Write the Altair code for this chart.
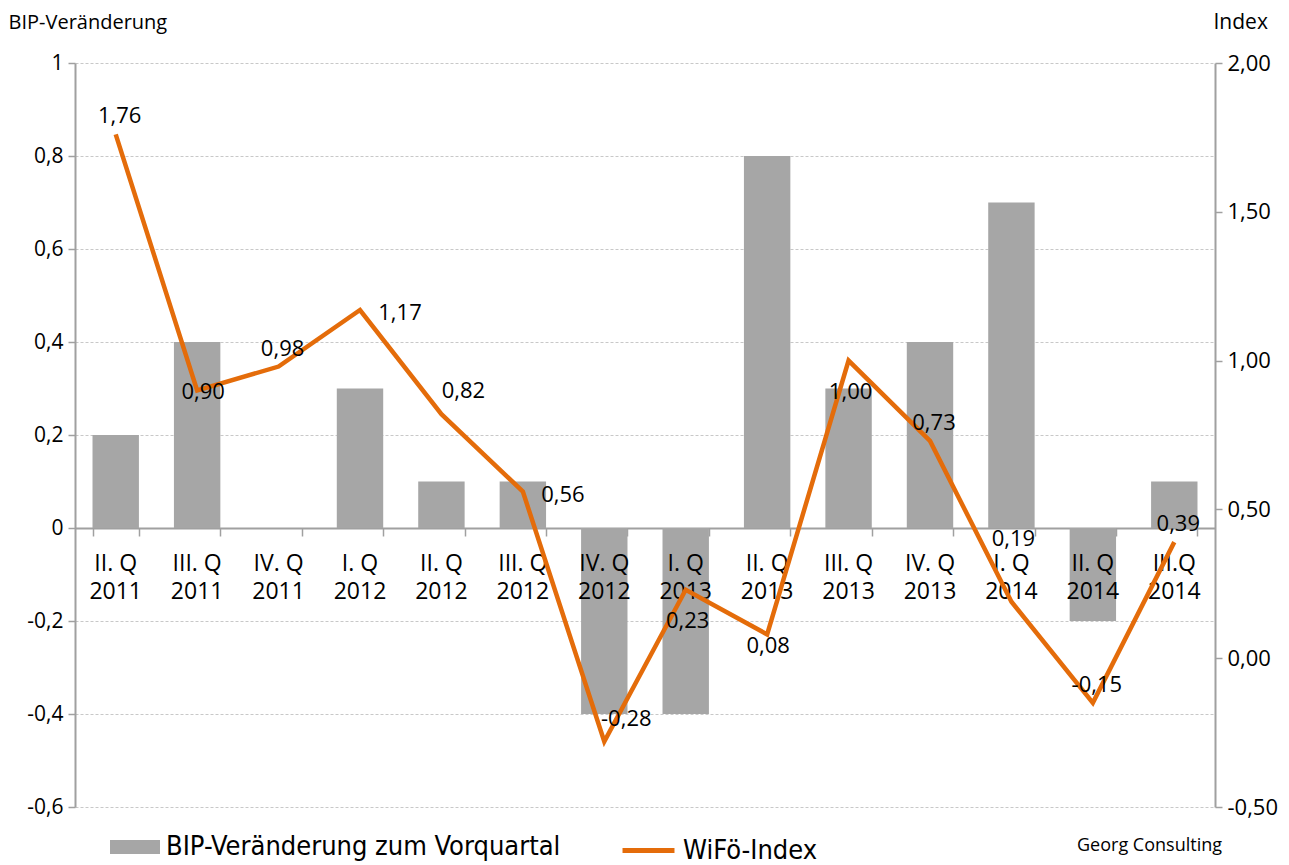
import altair as alt
import pandas as pd

# ---------------- Daten ----------------
quartale = ["II. Q\n2011", "III. Q\n2011", "IV. Q\n2011", "I. Q\n2012", "II. Q\n2012",
            "III. Q\n2012", "IV. Q\n2012", "I. Q\n2013", "II. Q\n2013", "III. Q\n2013",
            "IV. Q\n2013", "I. Q\n2014", "II. Q\n2014", "III.Q\n2014"]
bip_veraenderung = [0.2, 0.4, 0.0, 0.3, 0.1, 0.1, -0.4, -0.4, 0.8, 0.3, 0.4, 0.7, -0.2, 0.1]
wifoe_index = [1.76, 0.90, 0.98, 1.17, 0.82, 0.56, -0.28, 0.23, 0.08, 1.00, 0.73, 0.19, -0.15, 0.39]
# Position der Datenbeschriftung (wie in der Vorlage)
label_lage = ["oben", "mitte", "oben", "rechts", "obenrechts", "rechts", "obenrechts",
              "unten", "untennah", "unten", "oben", "hoch", "oben", "oben"]

serie_bar = "BIP-Veränderung zum Vorquartal"
serie_line = "WiFö-Index"
quelle = ["Georg Consulting"]

df = pd.DataFrame({
    "quartal": quartale,
    "bip": bip_veraenderung,
    "wifoe": wifoe_index,
    "lage": label_lage,
    "nullinie": [0.0] * len(quartale),
})
df["wifoe_label"] = [f"{v:.2f}".replace(".", ",") for v in wifoe_index]
df["serie_bar"] = serie_bar
df["serie_line"] = serie_line

# label offsets (dx, dy) in px per placement
lage_offsets = {
    "oben": (4, -18),
    "mitte": (6, 2),
    "rechts": (40, 3),
    "obenrechts": (22, -23),
    "unten": (2, 31),
    "untennah": (1, 12),
    "hoch": (2, -63),
}

FONT = "Open Sans"
GRAY_AX = "#A0A0A0"
BAR = "#A6A6A6"
ORANGE = "#E46C0A"

W, H = 1140, 744
left_dom = [-0.6, 1.0]
zero_px = H * (left_dom[1] - 0) / (left_dom[1] - left_dom[0])

x_axis = alt.Axis(title=None, labels=False, offset=-(H - zero_px), domainColor=GRAY_AX,
                  domainWidth=2, tickColor=GRAY_AX, tickWidth=1.5, tickSize=8,
                  tickBand="extent", grid=False)
x_enc = alt.X("quartal:N", sort=quartale,
              scale=alt.Scale(paddingInner=0.43, paddingOuter=0.215), axis=x_axis)

left_scale = alt.Scale(domain=left_dom, nice=False, zero=False)
left_axis = alt.Axis(
    values=[-0.6, -0.4, -0.2, 0, 0.2, 0.4, 0.6, 0.8, 1.0],
    labelExpr="replace(replace(format(datum.value, '.1~f'), '.', ','), '\u2212', '-')",
    title="BIP-Veränderung", titleAngle=0, titleAlign="left", titleBaseline="middle",
    titleX=-67, titleY=-41, titleFontSize=20, titleFontWeight="normal", titleFont=FONT,
    titleColor="#000000",
    grid=True, gridDash=[3, 2], gridColor="#C8C8C8", gridWidth=1,
    domainColor=GRAY_AX, domainWidth=2, tickColor=GRAY_AX, tickWidth=1.5, tickSize=7,
    labelFontSize=21, labelFont=FONT, labelColor="#000000", labelPadding=5,
)

right_scale = alt.Scale(domain=[-0.5, 2.0], nice=False, zero=False)
right_axis = alt.Axis(
    orient="right", values=[-0.5, 0, 0.5, 1.0, 1.5, 2.0],
    labelExpr="replace(replace(format(datum.value, '.2f'), '.', ','), '\u2212', '-')",
    title="Index", titleAngle=0, titleAlign="left", titleBaseline="middle",
    titleX=-2, titleY=-41, titleFontSize=21, titleFontWeight="normal", titleFont=FONT,
    titleColor="#000000",
    grid=False, domainColor=GRAY_AX, domainWidth=2, tickColor=GRAY_AX, tickWidth=1.5,
    tickSize=7, labelFontSize=22, labelFont=FONT, labelColor="#000000", labelPadding=5,
)

base = alt.Chart(df)

bars = base.mark_bar(color=BAR).encode(
    x=x_enc,
    y=alt.Y("bip:Q", scale=left_scale, axis=left_axis),
    y2=alt.Y2("nullinie:Q"),
    fill=alt.Fill("serie_bar:N",
                  scale=alt.Scale(domain=[serie_bar], range=[BAR]),
                  legend=alt.Legend(orient="none", legendX=35, legendY=759, title=None,
                                    padding=0,
                                    symbolType="M-1,-0.28H1V0.28H-1Z", symbolSize=2500,
                                    symbolStrokeWidth=0, labelFontSize=27,
                                    labelFont="DejaVu Sans Condensed", labelColor="#000000",
                                    labelOffset=6, labelLimit=600)),
)

cat_labels = base.mark_text(baseline="top", align="center", dy=25, fontSize=23, font=FONT,
                            lineBreak="\n", lineHeight=28, color="#000000").encode(
    x=x_enc,
    y=alt.Y("nullinie:Q", scale=left_scale, axis=left_axis),
    text="quartal:N",
)

source = alt.Chart(pd.DataFrame({"quelle": quelle})).mark_text(
    align="right", baseline="middle", fontSize=18, font=FONT, color="#000000"
).encode(x=alt.value(1147), y=alt.value(783), text="quelle:N")

left_group = alt.layer(bars, cat_labels)

line = base.mark_line(strokeWidth=4.5, strokeJoin="miter").encode(
    x=x_enc,
    y=alt.Y("wifoe:Q", scale=right_scale, axis=right_axis),
    stroke=alt.Stroke("serie_line:N",
                      scale=alt.Scale(domain=[serie_line], range=[ORANGE]),
                      legend=alt.Legend(orient="none", legendX=545, legendY=759, title=None,
                                        padding=0,
                                        symbolType="stroke", symbolSize=2700,
                                        symbolStrokeWidth=5, labelFontSize=27,
                                        labelFont="DejaVu Sans Condensed",
                                        labelColor="#000000", labelOffset=6,
                                        labelLimit=400)),
)

label_layers = []
for lage, (dx, dy) in lage_offsets.items():
    label_layers.append(
        base.transform_filter(alt.datum.lage == lage)
        .mark_text(align="center", baseline="middle", dx=dx, dy=dy, fontSize=22,
                   font=FONT, color="#000000")
        .encode(x=x_enc, y=alt.Y("wifoe:Q", scale=right_scale, axis=right_axis),
                text="wifoe_label:N")
    )

right_group = alt.layer(line, *label_layers)

chart = (
    alt.layer(left_group, right_group, source)
    .resolve_scale(y="independent")
    .properties(
        width=W, height=H,
        autosize=alt.AutoSizeParams(type="none"),
        padding={"left": 67, "top": 55, "right": 64, "bottom": 57},
        background="white",
    )
    .configure_view(stroke=None)
)

chart.save("out.html", embed_options={"renderer": "svg", "actions": False})
